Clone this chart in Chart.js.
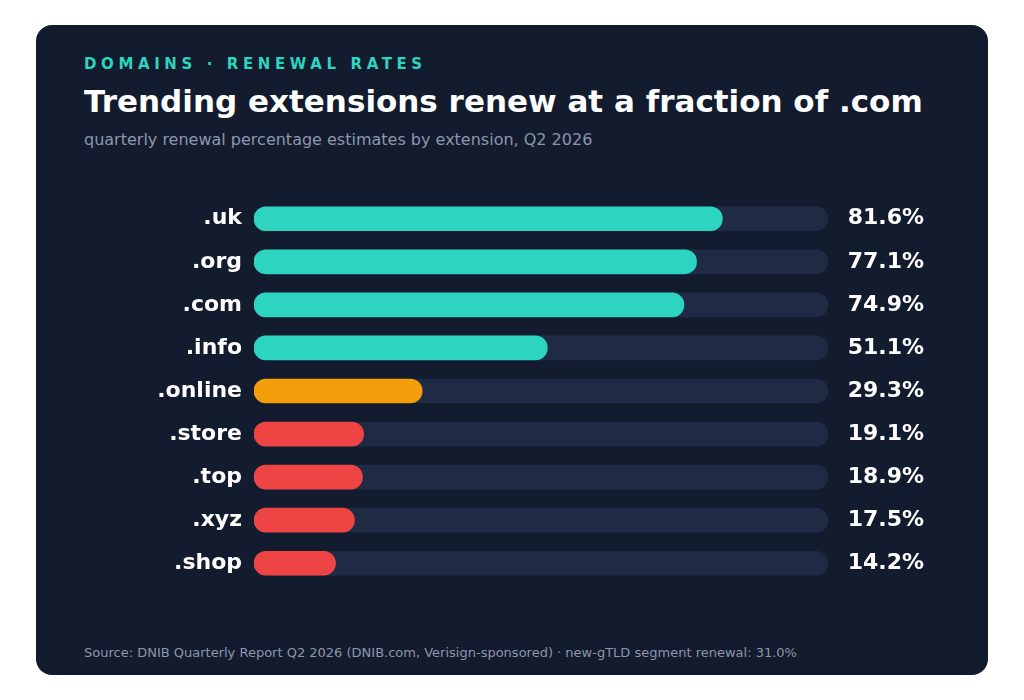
<!DOCTYPE html>
<html><head><meta charset="utf-8">
<script src="https://cdn.jsdelivr.net/npm/chart.js@4"></script>
<style>
body{margin:0;background:#fff;width:1024px;height:700px;position:relative;font-family:"DejaVu Sans",sans-serif;overflow:hidden}
#card{position:absolute;left:36px;top:25px;width:952px;height:650px;background:#131b2e;border-radius:16px}
.t{position:absolute;left:48px;white-space:nowrap}
#kick{top:30px;color:#2dd4bf;font-size:15px;font-weight:bold;letter-spacing:4.6px}
#title{top:58px;color:#fff;font-size:31px;font-weight:bold}
#sub{top:105px;color:#8b97ab;font-size:16px}
#foot{top:620px;color:#8b97ab;font-size:13px}
#wrap{position:absolute;left:0;top:155px;width:952px;height:422px}
</style></head><body>
<div id="card">
<div class="t" id="kick">DOMAINS · RENEWAL RATES</div>
<div class="t" id="title">Trending extensions renew at a fraction of .com</div>
<div class="t" id="sub">quarterly renewal percentage estimates by extension, Q2 2026</div>
<div id="wrap"><canvas id="c"></canvas></div>
<div class="t" id="foot">Source: DNIB Quarterly Report Q2 2026 (DNIB.com, Verisign-sponsored) · new-gTLD segment renewal: 31.0%</div>
</div>
<script>
const extensions = [".uk", ".org", ".com", ".info", ".online", ".store", ".top", ".xyz", ".shop"];
const renewalRates = [81.6, 77.1, 74.9, 51.1, 29.3, 19.1, 18.9, 17.5, 14.2];
const barColors = ["#2dd4bf", "#2dd4bf", "#2dd4bf", "#2dd4bf", "#f59e0b", "#ef4444", "#ef4444", "#ef4444", "#ef4444"];
const trackValues = extensions.map(() => 100);

// value labels right of the track
const valueLabels = {
  id: "valueLabels",
  afterDatasetsDraw(chart) {
    const ctx = chart.ctx;
    const meta = chart.getDatasetMeta(1);
    ctx.save();
    ctx.fillStyle = "#fff";
    ctx.font = "bold 22px 'DejaVu Sans'";
    ctx.textBaseline = "middle";
    ctx.textAlign = "right";
    meta.data.forEach((bar, i) => {
      ctx.fillText(renewalRates[i].toFixed(1) + "%", chart.chartArea.right + 96, bar.y);
    });
    ctx.restore();
  }
};

new Chart(document.getElementById("c"), {
  type: "bar",
  data: {
    labels: extensions,
    datasets: [
      { data: trackValues, backgroundColor: "#1f2a44", barThickness: 24, borderRadius: 12, borderSkipped: false, grouped: false, order: 2 },
      { data: renewalRates, backgroundColor: barColors, barThickness: 24, borderRadius: 12, borderSkipped: false, grouped: false, order: 1 }
    ]
  },
  options: {
    indexAxis: "y",
    responsive: true,
    maintainAspectRatio: false,
    animation: false,
    layout: { padding: { top: 2, right: 160, bottom: 0, left: 0 } },
    plugins: { legend: { display: false }, tooltip: { enabled: false } },
    scales: {
      x: { min: 0, max: 100, display: false },
      y: {
        grid: { display: false },
        border: { display: false },
        ticks: { color: "#fff", font: { size: 22, weight: "bold", family: "DejaVu Sans" }, padding: 4 },
        afterFit(scale) { scale.width = 218; }
      }
    }
  },
  plugins: [valueLabels]
});
</script>
</body></html>
